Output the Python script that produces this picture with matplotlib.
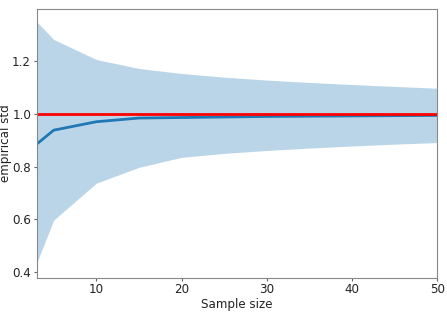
import matplotlib
matplotlib.use("Agg")
import matplotlib.pyplot as plt

sample_sizes = [3, 5, 10, 15, 20, 25, 30, 35, 40, 45, 50]
mean_std = [0.885, 0.938, 0.970, 0.984, 0.986, 0.988, 0.990, 0.991, 0.992, 0.993, 0.994]
upper = [1.349, 1.282, 1.206, 1.172, 1.153, 1.139, 1.128, 1.119, 1.111, 1.104, 1.097]
lower = [0.434, 0.597, 0.737, 0.797, 0.835, 0.850, 0.861, 0.870, 0.878, 0.885, 0.891]
true_std = 1.0

fig = plt.figure(figsize=(4.47, 3.14), dpi=100)
ax = fig.add_axes([0.082, 0.115, 0.896, 0.856])
ax.fill_between(sample_sizes, lower, upper, color="tab:blue", alpha=0.3, linewidth=0)
ax.plot(sample_sizes, mean_std, color="tab:blue", linewidth=2)
ax.axhline(true_std, color="red", linewidth=2)
ax.set_xlim(3, 50)
ax.set_ylim(0.378, 1.397)
ax.set_xticks([10, 20, 30, 40, 50])
ax.set_yticks([0.4, 0.6, 0.8, 1.0, 1.2])
ax.tick_params(labelsize=8.6, length=2, pad=2, color="#666666", labelcolor="#222222")
ax.set_xlabel("Sample size", fontsize=8.6, labelpad=1, color="#222222")
ax.set_ylabel("empirical std", fontsize=8.6, labelpad=0, color="#222222")
for s in ax.spines.values():
    s.set_color("#888888")
fig.savefig("out.png", dpi=100)
